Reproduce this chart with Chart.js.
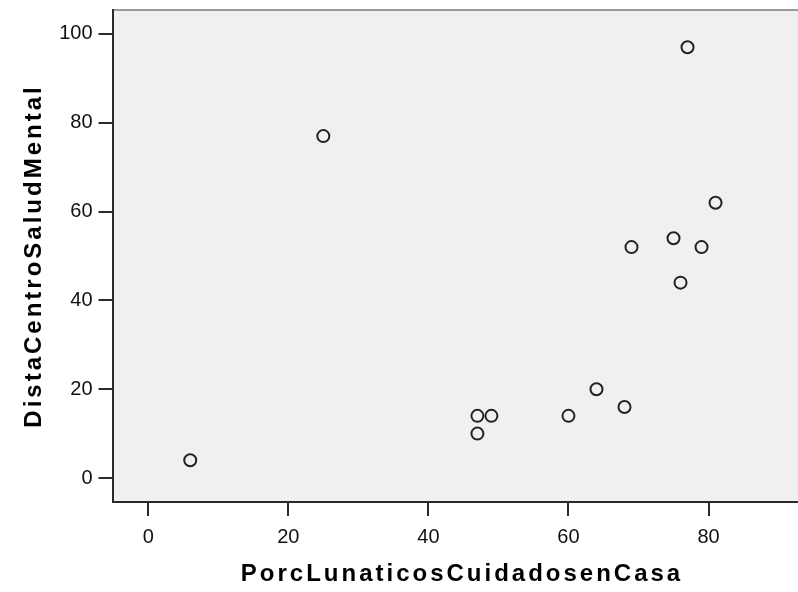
<!DOCTYPE html>
<html>
<head>
<meta charset="utf-8">
<script src="https://cdn.jsdelivr.net/npm/chart.js@4"></script>
<style>
  html, body { margin: 0; padding: 0; background: #fff; overflow: hidden; }
  #wrap { width: 820px; height: 592px; }
</style>
</head>
<body>
<div id="wrap"><canvas id="scatter"></canvas></div>
<script>
// datos
const porcCuidados = [6, 25, 47, 47, 49, 60, 64, 68, 69, 75, 76, 77, 79, 81];
const distaCentro = [4, 77, 14, 10, 14, 14, 20, 16, 52, 54, 44, 97, 52, 62];
const xTicks = [0, 20, 40, 60, 80];
const yTicks = [0, 20, 40, 60, 80, 100];
const xTitle = "PorcLunaticosCuidadosenCasa";
const yTitle = "DistaCentroSaludMental";

const points = [];
for (let i = 0; i < porcCuidados.length; i++) {
  points.push({ x: porcCuidados[i], y: distaCentro[i] });
}

// fondo gris del area y linea de arriba
const plotBg = {
  id: "plotBg",
  beforeDraw(chart) {
    const a = chart.chartArea;
    const ctx = chart.ctx;
    ctx.save();
    ctx.fillStyle = "#f0f0f0";
    ctx.fillRect(a.left, a.top, a.right - a.left, a.bottom - a.top);
    ctx.strokeStyle = "#9a9a9a";
    ctx.lineWidth = 2;
    ctx.beginPath();
    ctx.moveTo(a.left, a.top);
    ctx.lineTo(a.right, a.top);
    ctx.stroke();
    ctx.restore();
  },
};

// el titulo del eje tiene letras separadas
function spacedTitle(scale) {
  if (scale._spaced) return;
  scale._spaced = true;
  const orig = scale.drawTitle;
  scale.drawTitle = function () {
    const ctx = this.ctx;
    ctx.save();
    ctx.letterSpacing = "3px";
    orig.call(this);
    ctx.restore();
  };
}

const tickFont = { family: "'Liberation Sans', Arial, sans-serif", size: 20 };
const titleFont = { family: "'Liberation Sans', Arial, sans-serif", size: 24, weight: "bold", lineHeight: 1 };

new Chart(document.getElementById("scatter"), {
  type: "scatter",
  data: {
    datasets: [
      {
        label: yTitle,
        data: points,
        pointRadius: 6,
        pointHoverRadius: 6,
        borderWidth: 2,
        borderColor: "#222",
        backgroundColor: "rgba(0,0,0,0)",
      },
    ],
  },
  options: {
    responsive: true,
    maintainAspectRatio: false,
    animation: false,
    layout: { padding: { top: 10, right: 8.5, left: 0, bottom: 0 } },
    plugins: { legend: { display: false }, tooltip: { enabled: false } },
    scales: {
      x: {
        type: "linear",
        min: -5.1,
        max: 94.7,
        afterBuildTicks: (scale) => {
          scale.ticks = xTicks.map((v) => ({ value: v }));
        },
        afterFit: (scale) => {
          scale.height = 90;
          scale.paddingLeft = 0;
          scale.paddingRight = 0;
          spacedTitle(scale);
        },
        border: { display: true, color: "#2a2a2a", width: 2 },
        grid: { drawOnChartArea: false, drawTicks: true, tickLength: 14, color: "#2a2a2a", lineWidth: 2 },
        ticks: { color: "#111", font: tickFont, padding: 9, maxRotation: 0 },
        title: { display: true, text: xTitle, color: "#000", font: titleFont, padding: { top: 0, bottom: 5.4 } },
      },
      y: {
        type: "linear",
        min: -5.4,
        max: 105.4,
        afterBuildTicks: (scale) => {
          scale.ticks = yTicks.map((v) => ({ value: v }));
        },
        afterFit: (scale) => {
          scale.width = 112.5;
          scale.paddingTop = 0;
          scale.paddingBottom = 0;
          spacedTitle(scale);
        },
        border: { display: true, color: "#2a2a2a", width: 2 },
        grid: { drawOnChartArea: false, drawTicks: true, tickLength: 14, color: "#2a2a2a", lineWidth: 2 },
        ticks: { color: "#111", font: tickFont, padding: 6 },
        title: { display: true, text: yTitle, color: "#000", font: titleFont, padding: { top: 22.7, bottom: 0 } },
      },
    },
  },
  plugins: [plotBg],
});
</script>
</body>
</html>
